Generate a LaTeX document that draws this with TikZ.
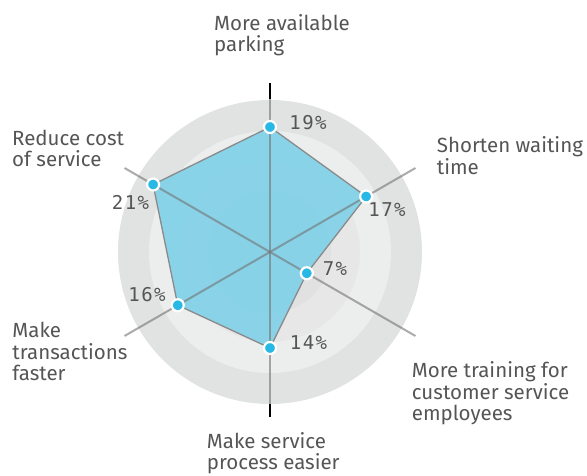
\documentclass[tikz,border=0pt]{standalone}
\usepackage{fontspec}
\setmainfont{Fira Sans}
\newfontfamily\pctfont[LetterSpace=8]{DejaVu Sans Mono}
\usetikzlibrary{calc}
\definecolor{txt}{HTML}{555555}
\definecolor{ringA}{HTML}{E1E2E2}
\definecolor{ringB}{HTML}{ECEDED}
\definecolor{ringC}{HTML}{E7E7E7}
\definecolor{ringD}{HTML}{E1E1E1}
\definecolor{polyfill}{HTML}{7CD0E8}
\definecolor{polyline}{HTML}{8A8A8A}
\definecolor{dotcyan}{HTML}{27B8E6}
\tikzset{
  lbl/.style={font=\fontsize{20.5}{21.5}\selectfont, text=txt, align=left, inner sep=0pt, anchor=base west},
  pct/.style={font=\pctfont\fontsize{19}{20}\selectfont, text=txt, inner sep=0pt, anchor=base},
  axisline/.style={draw=black!55, line width=2pt, opacity=0.6},
  axisend/.style={draw=black, line width=2pt},
  poly/.style={fill=polyfill, fill opacity=0.88, draw=polyline, line width=1.3pt, line join=round},
  dot/.style={circle, fill=dotcyan, draw=white, line width=2.2pt, minimum size=12pt, inner sep=0pt}
}
\begin{document}
\begin{tikzpicture}[x=1pt,y=1pt]
\useasboundingbox (0,0) rectangle (587,476);
\coordinate (c) at (270,224);
% rings
\fill[ringA] (c) circle (152pt);
\fill[ringB] (c) circle (121pt);
\fill[ringC] (c) circle (90pt);
\fill[ringD] (c) circle (61pt);
% data points
\coordinate (p19) at ($(c)+(90:125pt)$);
\coordinate (p17) at ($(c)+(30:111pt)$);
\coordinate (p7)  at ($(c)+(-30:42.5pt)$);
\coordinate (p14) at ($(c)+(-90:96pt)$);
\coordinate (p16) at ($(c)+(210:106.5pt)$);
\coordinate (p21) at ($(c)+(150:135pt)$);
% polygon
\path[poly] (p19) -- (p17) -- (p7) -- (p14) -- (p16) -- (p21) -- cycle;
% axis ends
\coordinate (a90)  at ($(c)+(90:169pt)$);
\coordinate (a270) at ($(c)+(-90:165pt)$);
\coordinate (a30)  at ($(c)+(30:168pt)$);
\coordinate (a210) at ($(c)+(210:168pt)$);
\coordinate (a150) at ($(c)+(150:168pt)$);
\coordinate (a330) at ($(c)+(-30:168pt)$);
\coordinate (r90)  at ($(c)+(90:153pt)$);
\coordinate (r270) at ($(c)+(-90:152pt)$);
\draw[axisline] (a30) -- (a210);
\draw[axisline] (a150) -- (a330);
\draw[axisline] (r90) -- (r270);
\draw[axisend] (r90) -- (a90);
\draw[axisend] (r270) -- (a270);
% dots
\node[dot] (d19) at (p19) {};
\node[dot] (d17) at (p17) {};
\node[dot] (d7)  at (p7) {};
\node[dot] (d14) at (p14) {};
\node[dot] (d16) at (p16) {};
\node[dot] (d21) at (p21) {};
% percentages
\node[pct] (t19) at (308,346) {19\%};
\node[pct] (t17) at (387,259.3) {17\%};
\node[pct] (t7)  at (335,200) {7\%};
\node[pct] (t14) at (308.5,126) {14\%};
\node[pct] (t16) at (147,174.3) {16\%};
\node[pct] (t21) at (130.5,266) {21\%};
% category labels (anchored at the last line's baseline)
\node[lbl] (lpark) at (214,424.3) {More available\\parking};
\node[lbl] (lwait) at (436.7,301.7) {Shorten waiting\\time};
\node[lbl] (lcost) at (12,309.3) {Reduce cost\\of service};
\node[lbl] (lfast) at (12.3,95) {Make\\transactions\\faster};
\node[lbl] (ltrain) at (411.7,55) {More training for\\customer service\\employees};
\node[lbl] (lease) at (206.7,6) {Make service\\process easier};
\end{tikzpicture}
\end{document}
